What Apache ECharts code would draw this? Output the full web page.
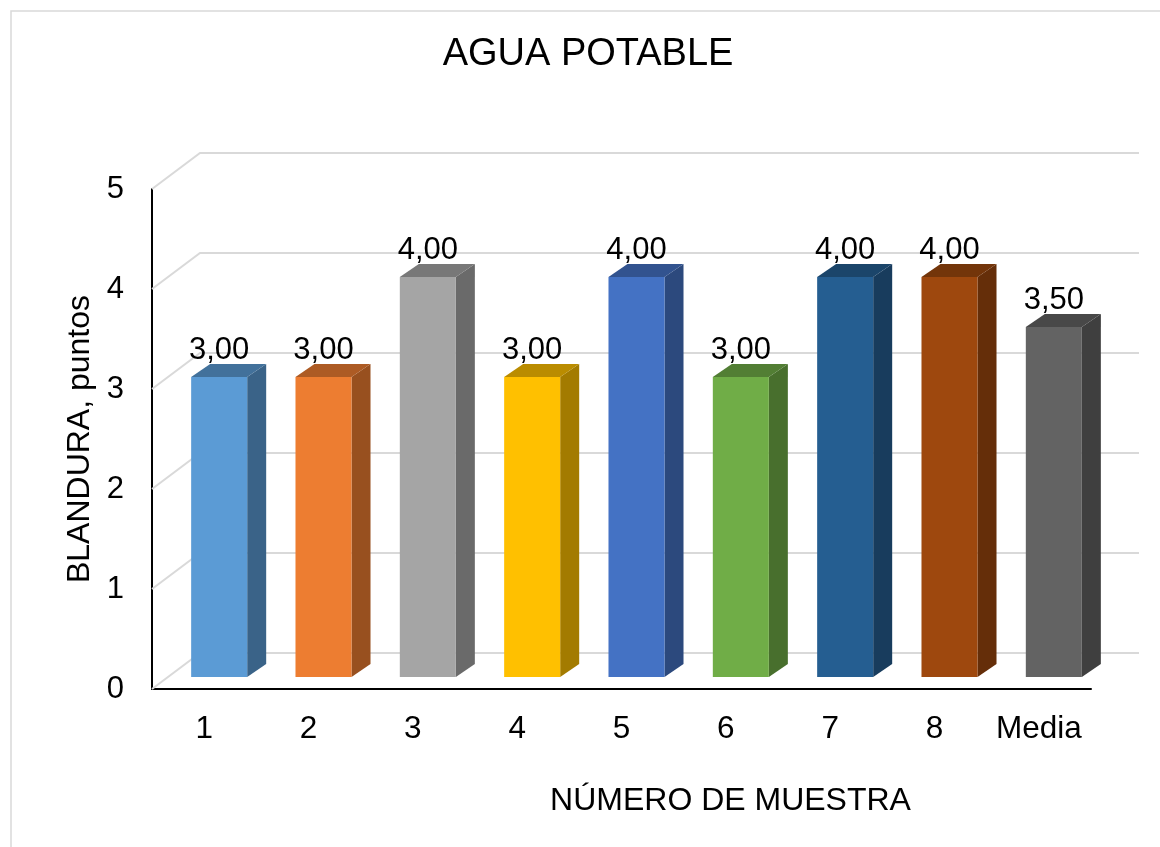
<!DOCTYPE html>
<html>
<head>
<meta charset="utf-8">
<script src="https://cdn.jsdelivr.net/npm/echarts@6/dist/echarts.min.js"></script>
<style>
html,body{margin:0;padding:0;background:#fff;}
#chart{width:1160px;height:847px;}
</style>
</head>
<body>
<div id="chart"></div>
<script>
const categories = ['1', '2', '3', '4', '5', '6', '7', '8', 'Media'];
const values = [3.00, 3.00, 4.00, 3.00, 4.00, 3.00, 4.00, 4.00, 3.50];
const yTicks = [0, 1, 2, 3, 4, 5];
const barColors = ['#5B9BD5', '#ED7D31', '#A5A5A5', '#FFC000', '#4472C4', '#70AD47', '#255E91', '#9E480E', '#636363'];

const FONT = "'Liberation Sans', Arial, sans-serif";
const WALL_DX = 48, WALL_DY = -36;   // back wall depth offset
const FRONT_DX = 15, FRONT_DY = -12; // bar front face offset from axis plane
const SIDE_DX = 19, SIDE_DY = -13;   // bar depth

function shade(hex, f) {
  const n = parseInt(hex.slice(1), 16);
  const r = Math.round(((n >> 16) & 255) * f);
  const g = Math.round(((n >> 8) & 255) * f);
  const b = Math.round((n & 255) * f);
  return 'rgb(' + r + ',' + g + ',' + b + ')';
}

const chart = echarts.init(document.getElementById('chart'), null, {renderer: 'canvas'});

const option = {
  backgroundColor: '#fff',
  animation: false,
  graphic: [{
    type: 'rect', silent: true, z: -10,
    shape: {x: 11, y: 11, width: 1200, height: 900},
    style: {fill: 'none', stroke: '#D9D9D9', lineWidth: 1.5}
  }],
  title: {
    text: 'AGUA POTABLE',
    left: 583, textAlign: 'center', top: 31,
    textStyle: {fontFamily: FONT, fontSize: 38, fontWeight: 'normal', color: '#000'}
  },
  grid: {left: 152, right: 69, top: 189, bottom: 158},
  xAxis: {
    type: 'category',
    data: categories,
    axisLine: {show: true, lineStyle: {color: '#000', width: 2}},
    axisTick: {show: false},
    axisLabel: {fontFamily: FONT, fontSize: 31.5, color: '#000', margin: 24, interval: 0},
    name: 'NÚMERO DE MUESTRA',
    nameLocation: 'middle',
    nameGap: 96,
    nameTextStyle: {fontFamily: FONT, fontSize: 32, color: '#000', padding: [0, 0, 0, 218]},
    splitLine: {show: false}
  },
  yAxis: {
    type: 'value',
    min: 0, max: 5, interval: 1,
    axisLine: {show: true, lineStyle: {color: '#000', width: 2}},
    axisTick: {show: false},
    axisLabel: {fontFamily: FONT, fontSize: 31, color: '#000', margin: 28},
    splitLine: {show: false},
    name: 'BLANDURA, puntos',
    nameLocation: 'middle',
    nameGap: 55,
    nameTextStyle: {fontFamily: FONT, fontSize: 32, color: '#000'}
  },
  series: [
    {
      type: 'custom',
      z: 1,
      silent: true,
      data: yTicks.map(t => [0, t]),
      renderItem: function (params, api) {
        const cs = params.coordSys;
        const p = api.coord([0, api.value(1)]);
        const y = p[1];
        const xl = cs.x, xr = cs.x + cs.width;
        return {
          type: 'polyline',
          shape: {points: [[xl, y], [xl + WALL_DX, y + WALL_DY], [xr + WALL_DX, y + WALL_DY]]},
          style: {stroke: '#D9D9D9', lineWidth: 2, fill: null}
        };
      }
    },
    {
      type: 'custom',
      z: 5,
      data: values.map((v, i) => [i, v]),
      renderItem: function (params, api) {
        const i = api.value(0);
        const v = api.value(1);
        const top = api.coord([i, v]);
        const base = api.coord([i, 0]);
        const bw = api.size([1, 0])[0] * 0.537;
        const color = barColors[params.dataIndex % barColors.length];
        const x0 = top[0] - bw / 2 + FRONT_DX;
        const x1 = x0 + bw;
        const yT = top[1] + FRONT_DY;
        const yB = base[1] + FRONT_DY;
        return {
          type: 'group',
          children: [
            {
              type: 'polygon',
              shape: {points: [[x1, yT], [x1 + SIDE_DX, yT + SIDE_DY], [x1 + SIDE_DX, yB + SIDE_DY], [x1, yB]]},
              style: {fill: shade(color, 0.64)}
            },
            {
              type: 'polygon',
              shape: {points: [[x0, yT], [x0 + SIDE_DX, yT + SIDE_DY], [x1 + SIDE_DX, yT + SIDE_DY], [x1, yT]]},
              style: {fill: shade(color, 0.73)}
            },
            {
              type: 'rect',
              shape: {x: x0, y: yT, width: bw, height: yB - yT},
              style: {fill: color}
            },
            {
              type: 'text',
              x: x0 + bw / 2,
              y: yT + SIDE_DY + 2,
              style: {
                text: v.toFixed(2).replace('.', ','),
                fontFamily: FONT, fontSize: 31, fill: '#000',
                align: 'center', verticalAlign: 'bottom'
              }
            }
          ]
        };
      }
    }
  ]
};
chart.setOption(option);
</script>
</body>
</html>
